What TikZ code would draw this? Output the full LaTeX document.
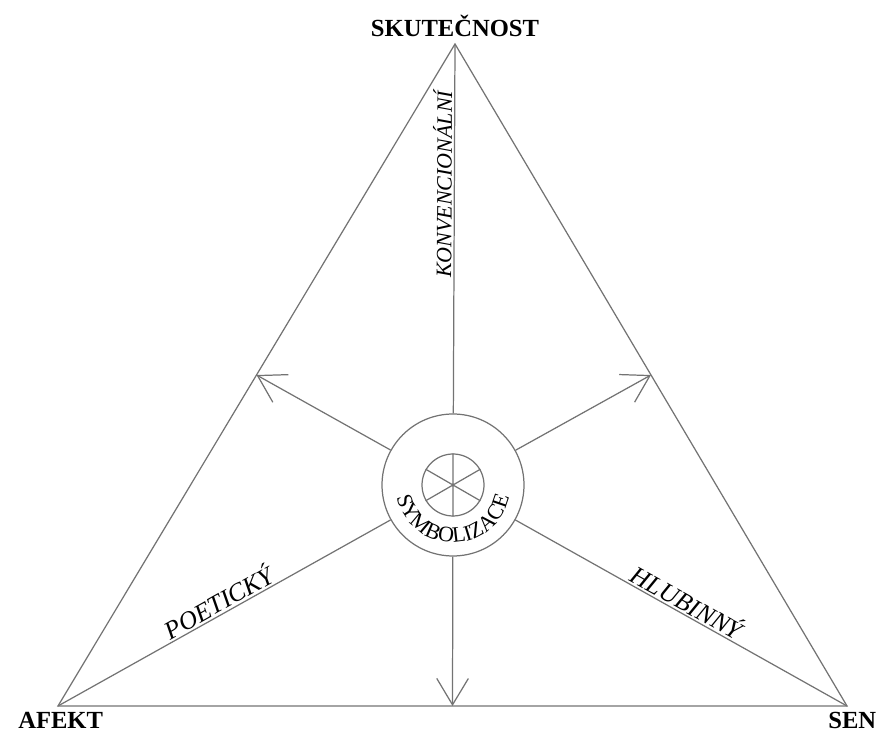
\documentclass[tikz,border=0pt]{standalone}
\usepackage{fontspec}
\setmainfont{Liberation Serif}
\usetikzlibrary{arrows.meta,positioning,calc,decorations.text}

\begin{document}
\begin{tikzpicture}[
  x=0.02cm, y=0.02cm,
  ln/.style={draw=black!55, line width=0.7pt},
  arr/.style={ln, -{Straight Barb[length=15pt, width=18pt]}},
  vlbl/.style={font=\fontsize{14}{16}\selectfont\bfseries, inner sep=0pt},
  slbl/.style={font=\fontsize{14.5}{16}\selectfont\itshape, sloped,
               anchor=south, inner sep=1pt}
]
  \useasboundingbox (0,0) rectangle (882,740);
  % vrcholy trojuhelniku
  \coordinate (top)   at (455,696);
  \coordinate (afekt) at (58,34);
  \coordinate (sen)   at (847,34);
  \coordinate (mleft)  at ($(top)!0.5!(afekt)$);
  \coordinate (mright) at ($(top)!0.5!(sen)$);
  \coordinate (mbot)   at ($(afekt)!0.5!(sen)$);
  \draw[ln] (top) -- (afekt) -- (sen) -- cycle;
  \node[vlbl, above=4pt of top] (skutlbl) {SKUTEČNOST};
  \node[vlbl, below=3.5pt of afekt, xshift=1.5pt] (afektlbl) {AFEKT};
  \node[vlbl, below=3.5pt of sen, xshift=3pt] (senlbl) {SEN};
  % stred: symbolizace
  \node[ln, circle, minimum size=2.84cm, inner sep=0pt] (sym) at (453,255) {};
  \node[ln, circle, minimum size=1.24cm, inner sep=0pt] (wheel) at (sym) {};
  \draw[ln] (wheel.90) -- (wheel.270) (wheel.30) -- (wheel.210)
            (wheel.150) -- (wheel.330);
  \path[decorate, decoration={text along path, text align=center,
        text={|\fontsize{12.5}{14}\selectfont|SYMBOLIZACE}}]
    (sym.center) ++(188:1.15cm) arc[start angle=188, end angle=352, radius=1.15cm];
  % spojnice k vrcholum
  \draw[ln] (sym) -- node[slbl, pos=0.62, font=\fontsize{12.5}{14}\selectfont\itshape]
    (konv) {KONVENCIONÁLNÍ} (top);
  \draw[ln] (afekt) -- node[slbl, pos=0.5] (poet) {POETICKÝ} (sym);
  \draw[ln] (sym) -- node[slbl, pos=0.5] (hlub) {HLUBINNÝ} (sen);
  % sipky ke stredum stran
  \draw[arr] (sym) -- (mleft);
  \draw[arr] (sym) -- (mright);
  \draw[arr] (sym) -- (mbot);
\end{tikzpicture}
\end{document}
